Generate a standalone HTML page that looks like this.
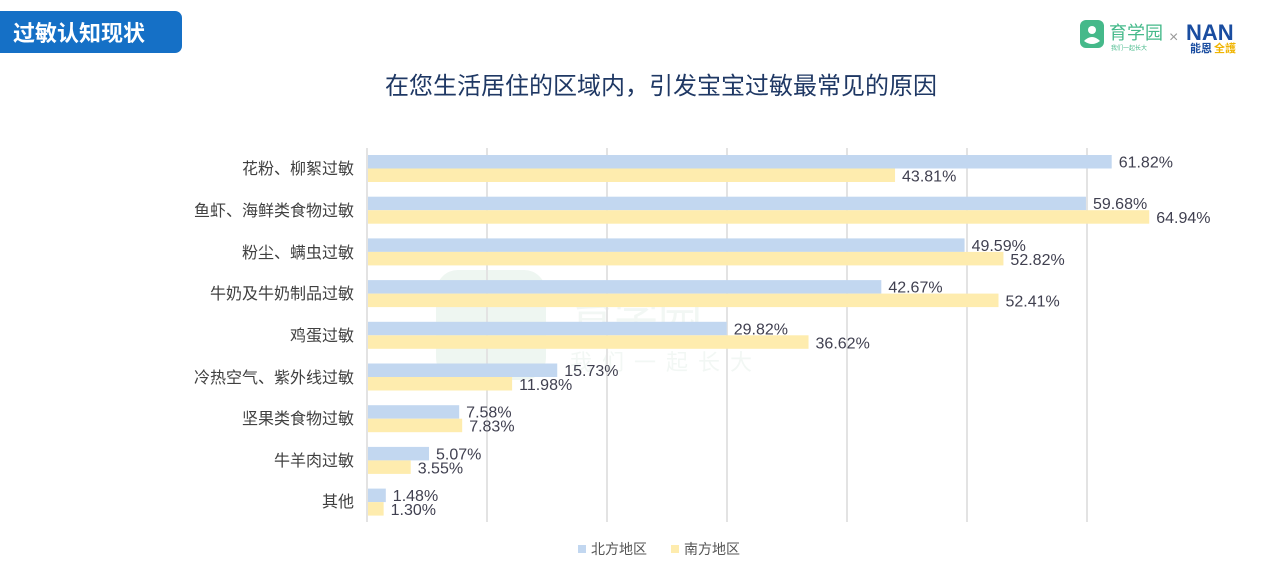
<!DOCTYPE html>
<html><head><meta charset="utf-8"><style>
body{margin:0;background:#fff;}
svg{display:block;font-family:"Liberation Sans","Noto Sans CJK SC",sans-serif;}
</style></head><body>
<svg width="1262" height="570" xmlns="http://www.w3.org/2000/svg">
<path d="M0 11 H175 a7 7 0 0 1 7 7 V46 a7 7 0 0 1 -7 7 H0 Z" fill="#1570c6"/>
<text x="13" y="41" font-size="22" font-weight="bold" fill="#fff">过敏认知现状</text>
<rect x="1080" y="20" width="24" height="28" rx="6" fill="#45b98a"/>
<circle cx="1092" cy="30" r="4" fill="#fff"/>
<path d="M1084 41 q8 -8 16 0 q-8 6 -16 0z" fill="#fff"/>
<text x="1109" y="39" font-size="18" fill="#45b98a">育学园</text>
<text x="1111" y="50" font-size="6" fill="#45b98a">我们一起长大</text>
<text x="1169" y="42" font-size="16" fill="#999">×</text>
<text x="1186" y="40" font-size="22" font-weight="bold" fill="#1a4da0">NAN</text>
<text x="1190" y="52" font-size="11" font-weight="bold" fill="#1a4da0">能恩</text>
<text x="1214" y="52" font-size="11" font-weight="bold" fill="#f0b400">全護</text>
<text x="661" y="94" font-size="24" fill="#1f3864" text-anchor="middle">在您生活居住的区域内，引发宝宝过敏最常见的原因</text>
<rect x="436" y="270" width="110" height="110" rx="22" fill="#eef6f1"/>
<text x="570" y="330" font-size="44" fill="#f2f7f4">育学园</text>
<text x="570" y="370" font-size="22" fill="#f2f7f4" letter-spacing="10">我们一起长大</text>
<g stroke="#e3e3e3" stroke-width="2">
<line x1="487" y1="148" x2="487" y2="522"/><line x1="607" y1="148" x2="607" y2="522"/>
<line x1="727" y1="148" x2="727" y2="522"/><line x1="847" y1="148" x2="847" y2="522"/>
<line x1="967" y1="148" x2="967" y2="522"/><line x1="1087" y1="148" x2="1087" y2="522"/>
<line x1="367" y1="148" x2="367" y2="522"/>
</g>
<g font-size="16" fill="#404040" text-anchor="end">
<text x="354" y="174">花粉、柳絮过敏</text>
<text x="354" y="216">鱼虾、海鲜类食物过敏</text>
<text x="354" y="258">粉尘、螨虫过敏</text>
<text x="354" y="299">牛奶及牛奶制品过敏</text>
<text x="354" y="341">鸡蛋过敏</text>
<text x="354" y="383">冷热空气、紫外线过敏</text>
<text x="354" y="424">坚果类食物过敏</text>
<text x="354" y="466">牛羊肉过敏</text>
<text x="354" y="507">其他</text>
</g>
<g id="bars"></g>
<rect x="578" y="545" width="8" height="8" fill="#c2d7f0"/>
<text x="591" y="554" font-size="14" fill="#555">北方地区</text>
<rect x="671" y="545" width="8" height="8" fill="#feecae"/>
<text x="684" y="554" font-size="14" fill="#555">南方地区</text>
</svg>
<script>
var d=[[61.82,43.81],[59.68,64.94],[49.59,52.82],[42.67,52.41],[29.82,36.62],[15.73,11.98],[7.58,7.83],[5.07,3.55],[1.48,1.30]];
var g=document.getElementById('bars'),s='';
d.forEach(function(r,i){var y=155+41.7*i;
var w1=r[0]*12.03,w2=r[1]*12.03;
s+='<rect x="368" y="'+y+'" width="'+w1+'" height="13.5" fill="#c2d7f0"/>';
s+='<rect x="368" y="'+(y+13.5)+'" width="'+w2+'" height="13.5" fill="#feecae"/>';
s+='<text x="'+(368+w1+7)+'" y="'+(y+12.5)+'" font-size="16" fill="#404050">'+r[0].toFixed(2)+'%</text>';
s+='<text x="'+(368+w2+7)+'" y="'+(y+26.5)+'" font-size="16" fill="#404050">'+r[1].toFixed(2)+'%</text>';});
g.innerHTML=s;
</script>
</body></html>
